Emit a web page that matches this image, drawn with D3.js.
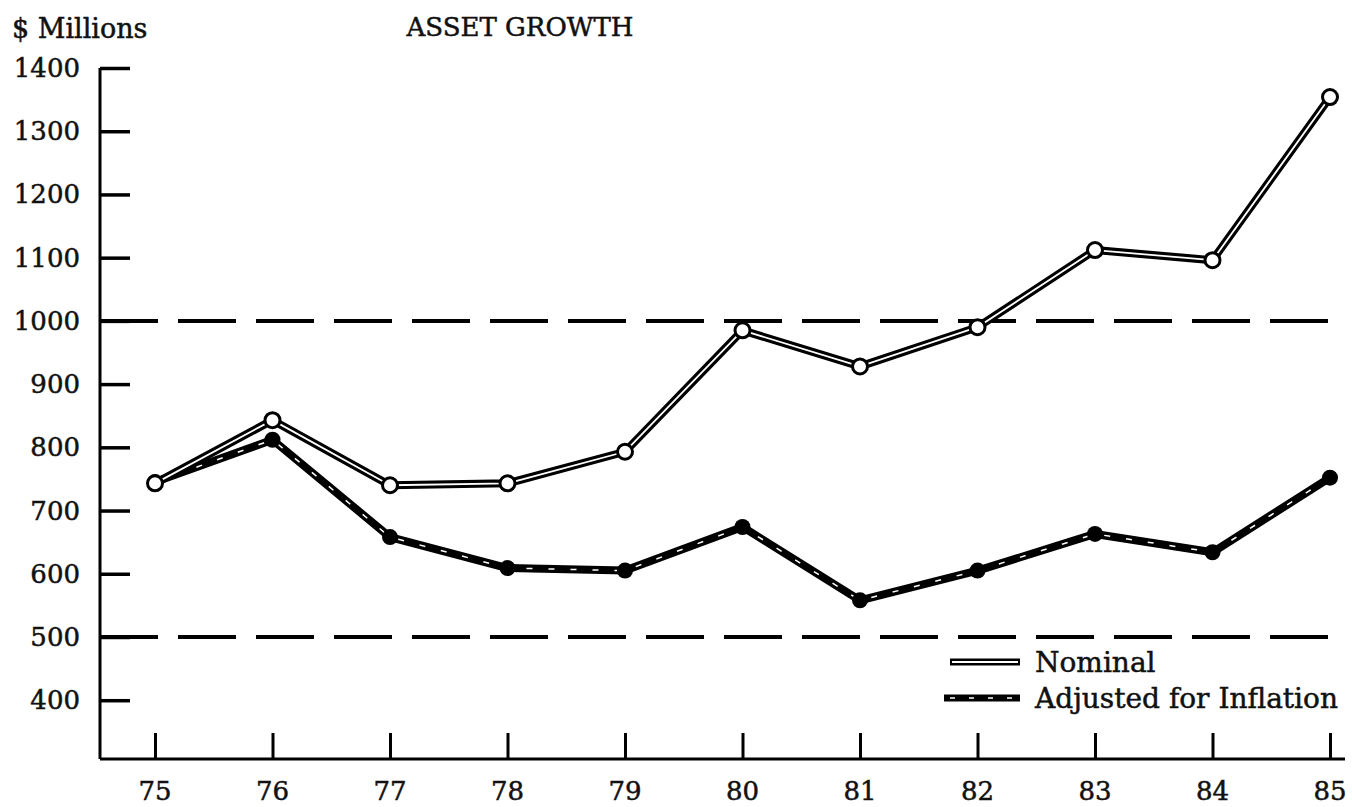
<!DOCTYPE html>
<html><head><meta charset="utf-8">
<script src="https://cdn.jsdelivr.net/npm/d3@7"></script>
<style>body{margin:0;background:#fff}svg{display:block}text{font-family:"DejaVu Serif","Liberation Serif",serif;fill:#111;stroke:#111;stroke-width:0.5px}</style>
</head><body><svg id="c" width="1352" height="807"></svg>
<script>
const years = ["75","76","77","78","79","80","81","82","83","84","85"];
const nominal = [743, 843, 740, 743, 793, 985, 928, 990, 1112, 1096, 1354];
const adjusted = [745, 812, 658, 609, 605, 674, 558, 605, 663, 634, 752];
const yTicks = [400, 500, 600, 700, 800, 900, 1000, 1100, 1200, 1300, 1400];
const refLines = [1000, 500];
const seriesNames = ["Nominal", "Adjusted for Inflation"];

const svg = d3.select("#c");
const x = d3.scalePoint().domain(years).range([155, 1330]);
const y = d3.scaleLinear().domain([307, 1400]).range([759, 68]);
const axisLeftX = 100, axisRightX = 1345;

// title & unit
svg.append("text").attr("x", 12).attr("y", 38).attr("font-size", 27).text("$ Millions");
svg.append("text").attr("x", 520).attr("y", 36).attr("font-size", 26).attr("text-anchor", "middle").text("ASSET GROWTH");

// y axis
const yAxis = d3.axisRight(y).tickValues(yTicks).tickSize(30).tickFormat("");
const gy = svg.append("g").attr("transform", `translate(${axisLeftX},0)`).call(yAxis);
gy.select(".domain").attr("d", `M0,${y(1400)}V${y(307)}`).attr("stroke", "#000").attr("stroke-width", 3);
gy.selectAll(".tick line").attr("stroke", "#000").attr("stroke-width", 3.5);
svg.append("g").selectAll("text").data(yTicks).join("text")
  .attr("x", 80).attr("y", d => y(d) + 9).attr("text-anchor", "end").attr("font-size", 26).text(d => d);

// x axis
const xAxis = d3.axisTop(x).tickSize(26).tickFormat("");
const gx = svg.append("g").attr("transform", `translate(0,${y(307)})`).call(xAxis);
gx.select(".domain").attr("d", `M${axisLeftX},0H${axisRightX}`).attr("stroke", "#000").attr("stroke-width", 3);
gx.selectAll(".tick line").attr("stroke", "#000").attr("stroke-width", 3);
svg.append("g").selectAll("text").data(years).join("text")
  .attr("x", d => x(d)).attr("y", 800).attr("text-anchor", "middle").attr("font-size", 26).text(d => d);

// dashed reference lines
svg.append("g").selectAll("line").data(refLines).join("line")
  .attr("x1", axisLeftX).attr("x2", axisRightX).attr("y1", d => y(d)).attr("y2", d => y(d))
  .attr("stroke", "#000").attr("stroke-width", 4).attr("stroke-dasharray", "58,20");

const line = d3.line().x((d, i) => x(years[i])).y(d => y(d));

// adjusted: solid black, faint broken core, filled dots
const gA = svg.append("g");
gA.append("path").datum(adjusted).attr("d", line).attr("fill", "none").attr("stroke", "#000").attr("stroke-width", 8).attr("stroke-linejoin", "round");
gA.append("path").datum(adjusted).attr("d", line).attr("fill", "none").attr("stroke", "#fff").attr("stroke-width", 1.5).attr("stroke-dasharray", "6,16");
gA.selectAll("circle").data(adjusted).join("circle").attr("cx", (d, i) => x(years[i])).attr("cy", d => y(d)).attr("r", 8).attr("fill", "#000");

// nominal: outlined line with open circles
const gN = svg.append("g");
gN.append("path").datum(nominal).attr("d", line).attr("fill", "none").attr("stroke", "#000").attr("stroke-width", 8).attr("stroke-linejoin", "round");
gN.append("path").datum(nominal).attr("d", line).attr("fill", "none").attr("stroke", "#fff").attr("stroke-width", 1.8).attr("stroke-linejoin", "round");
gN.selectAll("circle").data(nominal).join("circle").attr("cx", (d, i) => x(years[i])).attr("cy", d => y(d)).attr("r", 7.5).attr("fill", "#fff").attr("stroke", "#000").attr("stroke-width", 3);

// legend
const lg = svg.append("g");
lg.append("line").attr("x1", 950).attr("x2", 1020).attr("y1", 662).attr("y2", 662).attr("stroke", "#000").attr("stroke-width", 7);
lg.append("line").attr("x1", 952).attr("x2", 1018).attr("y1", 662).attr("y2", 662).attr("stroke", "#fff").attr("stroke-width", 2);
lg.append("text").attr("x", 1035).attr("y", 672).attr("font-size", 28).text(seriesNames[0]);
lg.append("line").attr("x1", 944).attr("x2", 1020).attr("y1", 698).attr("y2", 698).attr("stroke", "#000").attr("stroke-width", 7);
lg.append("line").attr("x1", 950).attr("x2", 1018).attr("y1", 698).attr("y2", 698).attr("stroke", "#fff").attr("stroke-width", 1.5).attr("stroke-dasharray", "5,14");
lg.append("text").attr("x", 1035).attr("y", 708).attr("font-size", 28).text(seriesNames[1]);
</script></body></html>
